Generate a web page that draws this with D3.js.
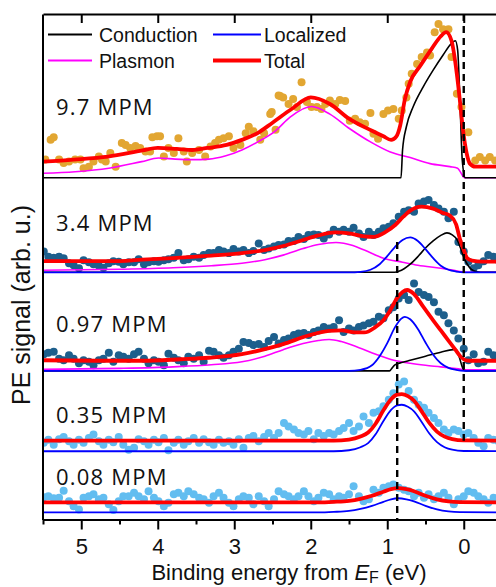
<!DOCTYPE html>
<html>
<head>
<meta charset="utf-8">
<script src="https://cdn.jsdelivr.net/npm/d3@7/dist/d3.min.js"></script>
<style>
  html, body { margin: 0; padding: 0; background: #ffffff; }
  svg { display: block; }
</style>
</head>
<body>
<svg id="chart" width="496" height="587"></svg>
<script>
// ---------------- measured spectra ----------------
// binding energies (eV below E_F) shared by the four lower spectra
const energy = [5.49,5.43,5.36,5.29,5.23,5.16,5.10,5.03,4.97,4.90,
  4.84,4.77,4.71,4.64,4.58,4.51,4.45,4.38,4.31,4.25,
  4.18,4.12,4.05,3.99,3.92,3.86,3.79,3.73,3.66,3.60,
  3.53,3.46,3.40,3.33,3.27,3.20,3.14,3.07,3.01,2.94,
  2.88,2.81,2.75,2.68,2.61,2.55,2.48,2.42,2.35,2.29,
  2.22,2.16,2.09,2.03,1.96,1.90,1.83,1.76,1.70,1.63,
  1.57,1.50,1.44,1.37,1.31,1.24,1.18,1.11,1.05,0.98,
  0.92,0.85,0.78,0.72,0.65,0.59,0.52,0.46,0.39,0.33,
  0.26,0.20,0.13,0.07,0.00,-0.06,-0.13,-0.19,-0.26,-0.32,
  -0.39,-0.45];

const signal34 = [4.1,3.1,2.9,3.1,2.8,1.8,1.4,0.8,2.4,2.0,
  1.6,1.3,0.9,1.8,2.2,2.1,1.6,2.0,2.0,2.6,
  1.6,2.0,2.2,2.1,2.4,2.6,2.9,3.8,2.4,2.6,
  3.1,2.9,3.4,3.8,3.8,4.4,4.1,3.8,4.6,4.1,
  4.4,3.8,4.2,5.7,4.4,4.7,5.1,5.4,5.5,6.2,
  6.2,7.0,6.6,7.4,7.5,7.4,6.7,7.5,8.4,8.0,
  8.4,8.0,8.8,7.7,7.0,8.0,7.4,8.0,8.7,9.0,
  9.7,11.0,12.0,12.3,12.0,13.6,14.0,14.3,13.3,12.6,
  12.0,10.7,12.0,6.0,4.1,2.1,0.8,1.4,2.2,3.4,
  3.1,2.4];

const signal097 = [3.3,3.6,3.8,2.4,2.1,3.1,2.4,1.5,2.1,1.8,
  1.1,2.1,2.4,3.6,1.8,3.1,2.8,2.4,3.3,3.8,
  2.4,1.5,2.1,1.8,1.1,3.4,2.6,2.1,1.5,2.8,
  2.4,3.1,1.8,4.0,3.8,3.1,2.6,3.1,3.8,4.4,
  5.7,5.5,5.1,5.3,4.7,5.9,6.7,5.4,6.1,6.4,
  7.1,7.4,7.5,7.1,7.7,8.0,8.7,8.4,8.7,10.0,
  7.7,8.4,8.0,8.7,9.0,9.4,9.7,10.7,10.4,12.0,
  12.6,14.3,15.0,14.0,17.3,15.6,15.0,14.6,13.6,11.7,
  11.0,9.4,8.0,6.4,4.4,2.1,3.3,1.5,1.8,3.8,
  3.1,2.6];

const signal035 = [1.7,2.3,1.3,2.4,2.8,2.0,1.3,2.3,1.7,2.6,
  3.3,2.0,1.3,2.3,1.8,2.8,1.3,0.3,0.7,2.4,
  2.0,1.3,2.3,1.8,2.6,0.2,1.7,2.3,1.3,2.0,
  2.6,1.7,2.4,1.8,1.3,2.3,1.7,2.0,1.3,2.4,
  0.7,2.6,3.0,2.0,2.8,3.6,2.6,3.6,5.6,4.9,
  4.3,3.6,3.3,4.0,2.4,3.6,3.0,3.6,3.3,4.0,
  4.6,5.6,4.0,4.9,6.9,5.6,7.6,7.9,8.9,10.2,
  11.5,13.2,13.8,11.9,10.2,9.2,8.6,7.6,6.6,5.6,
  4.3,3.6,4.3,4.0,3.3,3.6,2.6,1.7,1.0,2.6,
  2.3,2.0];

const signal008 = [3.0,3.2,2.8,2.9,4.3,2.2,1.2,0.6,2.9,3.2,
  3.6,2.6,2.9,1.6,0.5,2.2,3.2,3.2,3.9,3.2,
  2.6,4.2,2.9,2.2,1.2,1.9,3.6,3.9,3.2,4.2,
  3.6,2.9,2.6,1.9,3.2,3.9,2.9,1.9,1.2,2.6,
  3.2,2.9,1.6,3.2,2.2,1.2,2.6,4.2,3.6,3.2,
  2.6,3.2,4.2,3.2,2.2,2.9,3.9,3.6,2.6,3.2,
  2.9,3.6,5.2,3.2,2.2,2.6,4.5,3.9,4.9,5.2,
  5.5,4.9,4.5,4.2,3.2,3.9,2.9,3.6,2.6,3.2,
  3.9,2.9,1.6,2.6,3.2,4.2,3.9,3.2,2.6,1.9,
  2.9,2.4];

// the 9.7 MPM spectrum has its own energy points
const energy97 = [5.47,5.40,5.36,5.29,5.23,5.16,5.08,5.01,4.97,4.90,
  4.84,4.77,4.73,4.68,4.62,4.55,4.47,4.42,4.36,4.29,
  4.23,4.16,4.10,4.07,4.01,3.97,3.92,3.86,3.79,3.73,
  3.66,3.62,3.55,3.46,3.38,3.31,3.25,3.20,3.14,3.07,
  3.01,2.92,2.85,2.81,2.75,2.66,2.61,2.53,2.51,2.46,
  2.42,2.40,2.36,2.29,2.23,2.18,2.12,2.05,1.99,1.92,
  1.86,1.81,1.75,1.68,1.62,1.55,1.49,1.42,1.36,1.29,
  1.22,1.18,1.12,1.05,0.99,0.92,0.85,0.81,0.75,0.72,
  0.68,0.61,0.55,0.48,0.44,0.38,0.33,0.27,0.20,0.16,
  0.09,0.03,-0.06,-0.15,-0.21,-0.28,-0.34,-0.41];

const signal97 = [3.6,7.5,8.0,3.6,2.9,3.2,3.6,3.6,1.9,2.2,
  3.2,4.2,3.6,3.2,4.9,2.2,6.9,6.5,5.9,6.3,
  5.9,5.2,5.2,8.0,8.2,8.2,4.2,5.9,4.9,7.8,
  5.2,3.2,4.9,5.5,4.2,6.2,6.9,7.5,7.8,8.2,
  5.9,6.5,8.8,10.1,9.2,7.5,8.8,12.6,13.0,9.5,
  16.3,16.2,15.9,14.6,15.6,14.0,18.9,15.0,14.0,14.0,
  13.6,14.6,15.3,14.6,15.4,15.2,11.3,11.7,11.0,10.7,
  12.8,8.7,7.7,12.6,13.3,13.6,11.7,13.3,15.9,18.6,
  20.6,22.5,23.9,24.8,24.2,28.8,30.4,29.4,29.4,23.9,
  16.6,14.0,9.0,3.4,4.1,3.4,4.1,3.4];

// ---------------- fitted components: [binding energy, signal] ----------------
const total97 = [[5.5,3.2],[5.1,3.6],[4.65,4.2],[4.2,5.4],[4.0,5.9],[3.75,5.7],[3.55,5.5],
  [3.35,5.9],[3.1,6.5],[2.9,7.5],[2.7,8.8],[2.5,10.9],[2.25,13.6],[2.0,15.9],[1.75,14.6],
  [1.5,11.7],[1.2,9.3],[1.05,8.2],[0.95,7.5],[0.88,8.2],[0.83,10.4],[0.77,15.5],[0.70,19.0],
  [0.57,22.1],[0.42,25.5],[0.30,28.0],[0.23,28.8],[0.16,27.1],[0.09,20.5],[0.05,15.2],
  [0.01,9.5],[-0.04,4.7],[-0.08,2.8],[-0.15,2.2],[-0.5,2.2]];
const conduction97 = [[5.5,0],[0.82,0],[0.80,5.5],[0.75,10.1],[0.66,14.1],[0.53,18.0],
  [0.40,21.3],[0.27,24.3],[0.16,26.6],[0.11,27.1],[0.08,25.3],[0.05,15.4],[0.02,3.6],
  [-0.02,0],[-0.5,0]];
const plasmon97 = [[5.5,0.9],[5.08,1.2],[4.64,1.9],[4.21,3.2],[3.99,3.9],[3.77,3.7],[3.55,3.6],
  [3.33,3.7],[3.12,4.3],[2.9,5.5],[2.68,7.2],[2.46,9.3],[2.27,12.0],[1.99,14.1],[1.75,12.6],
  [1.49,9.7],[1.22,7.1],[0.96,5.1],[0.70,4.0],[0.44,2.8],[0.18,2.2],[0.08,1.9],[0.03,0.8],
  [0.0,0.1],[-0.03,0],[-0.5,0]];

const total34 = [[5.5,2.2],[5.0,2.2],[4.6,2.2],[4.2,2.5],[3.8,2.8],[3.3,3.3],[2.9,3.8],[2.6,4.4],
  [2.36,5.2],[2.1,6.4],[1.9,7.3],[1.68,7.9],[1.5,7.7],[1.3,7.1],[1.18,7.0],[1.02,8.0],[0.9,9.3],
  [0.79,11.0],[0.7,12.2],[0.55,13.0],[0.4,12.6],[0.28,11.8],[0.18,11.2],[0.1,9.5],[0.05,6.6],
  [0.0,4.5],[-0.04,2.9],[-0.11,2.3],[-0.24,2.1],[-0.5,2.1]];
const conduction34 = [[5.5,0],[0.9,0],[0.85,0.2],[0.78,0.7],[0.7,1.6],[0.6,3.1],[0.5,4.8],
  [0.4,6.2],[0.3,7.3],[0.22,7.8],[0.15,7.4],[0.09,6.5],[0.04,4.7],[0.0,3.0],[-0.05,1.5],
  [-0.1,0.6],[-0.17,0.1],[-0.22,0],[-0.5,0]];
const localized34 = [[5.5,0],[1.5,0],[1.35,0.1],[1.22,0.5],[1.1,1.6],[1.0,3.2],[0.9,5.0],
  [0.8,6.4],[0.7,6.9],[0.6,6.2],[0.5,4.6],[0.4,2.8],[0.3,1.3],[0.2,0.5],[0.1,0.15],[0.0,0],
  [-0.5,0]];
const plasmon34 = [[5.5,0.4],[4.5,0.6],[3.8,0.9],[3.3,1.3],[2.9,1.8],[2.6,2.5],[2.36,3.4],
  [2.1,4.7],[1.9,5.5],[1.67,5.9],[1.45,5.3],[1.3,4.4],[1.05,2.8],[0.8,2.0],[0.6,1.4],[0.3,0.8],
  [0.15,0.45],[0.02,0.1],[-0.05,0],[-0.5,0]];

const total097 = [[5.5,2.1],[4.8,2.0],[4.2,2.0],[3.7,2.3],[3.33,2.6],[2.9,3.3],[2.6,4.3],
  [2.36,5.3],[2.03,7.0],[1.76,7.9],[1.6,8.0],[1.42,7.6],[1.3,7.6],[1.16,8.6],[1.05,10.0],
  [0.96,12.0],[0.88,14.2],[0.80,15.6],[0.74,16.0],[0.65,15.2],[0.53,12.7],[0.40,10.0],
  [0.30,8.0],[0.2,6.0],[0.11,4.2],[0.04,2.8],[-0.03,2.1],[-0.1,2.0],[-0.5,2.0]];
const conduction097 = [[5.5,0],[0.97,0],[0.94,0.5],[0.9,1.2],[0.8,1.7],[0.7,2.1],[0.5,2.9],
  [0.3,3.7],[0.14,4.2],[0.1,4.2],[0.06,2.8],[0.02,0.8],[0.0,0.2],[-0.03,0],[-0.5,0]];
const localized097 = [[5.5,0],[1.5,0],[1.35,0.2],[1.2,1.1],[1.1,2.9],[1.0,5.5],[0.9,8.6],
  [0.82,10.3],[0.77,10.7],[0.7,10.2],[0.6,8.3],[0.5,5.6],[0.4,3.2],[0.3,1.5],[0.2,0.6],
  [0.1,0.2],[0.0,0],[-0.5,0]];
const plasmon097 = [[5.5,0.3],[4.5,0.5],[3.8,0.8],[3.3,1.2],[2.9,1.8],[2.6,2.9],[2.36,4.2],
  [2.1,5.4],[1.9,6.0],[1.76,6.2],[1.6,5.8],[1.37,4.6],[1.15,3.3],[0.94,2.2],[0.7,1.5],
  [0.5,1.1],[0.3,0.8],[0.07,0.4],[-0.05,0.2],[-0.5,0.2]];

const total035 = [[5.5,2.1],[1.7,2.1],[1.5,2.3],[1.35,2.9],[1.25,3.7],[1.15,5.5],[1.05,8.1],
  [0.95,10.3],[0.87,11.2],[0.81,11.3],[0.73,10.9],[0.65,10.0],[0.55,7.9],[0.45,5.6],
  [0.35,3.9],[0.25,2.9],[0.15,2.4],[0.0,2.15],[-0.5,2.1]];
const localized035 = [[5.5,0],[1.7,0],[1.5,0.2],[1.35,0.8],[1.25,1.6],[1.15,3.4],[1.05,6.0],
  [0.95,8.2],[0.87,9.1],[0.81,9.2],[0.73,8.8],[0.65,7.9],[0.55,5.8],[0.45,3.5],[0.35,1.8],
  [0.25,0.8],[0.15,0.3],[0.0,0.05],[-0.5,0]];

const total008 = [[5.5,2.0],[1.9,2.0],[1.7,2.1],[1.5,2.3],[1.35,2.7],[1.2,3.3],[1.05,4.1],
  [0.95,4.6],[0.86,4.8],[0.75,4.6],[0.65,4.2],[0.5,3.3],[0.35,2.6],[0.2,2.2],[0.05,2.05],
  [-0.5,2.0]];
const localized008 = [[5.5,0],[1.9,0],[1.7,0.1],[1.5,0.3],[1.35,0.7],[1.2,1.3],[1.05,2.1],
  [0.95,2.6],[0.86,2.8],[0.75,2.6],[0.65,2.2],[0.5,1.3],[0.35,0.6],[0.2,0.2],[0.05,0.05],
  [-0.5,0]];

// ---------------- labels, offsets, ticks ----------------
const panelLabels = ["9.7 MPM", "3.4 MPM", "0.97 MPM", "0.35 MPM", "0.08 MPM"];
const panelOffsets = [67.6, 48.9, 29.4, 13.5, 1.4];   // vertical stacking offsets (arb. u.)
const majorTicks = [5, 4, 3, 2, 1, 0];
const minorTicks = [5.5, 4.5, 3.5, 2.5, 1.5, 0.5, -0.5];
const legendNames = ["Conduction", "Localized", "Plasmon", "Total"];
// reference energies marked by dashed lines: E_F and the localized state
const markerEnergies = [0, 0.87];

// ---------------- styles ----------------
const colors = { conduction: "#000000", localized: "#0000ff", plasmon: "#ff00ff", total: "#ff0000" };
const widths = { conduction: 1.6, localized: 1.8, plasmon: 1.6, total: 3.8 };
const dotColors = ["#e2a632", "#1d5f8c", "#1d5f8c", "#62bdf0", "#62bdf0"];
const labelLift = [63, 41, 39, 28, 27];
const sansFont = "'Liberation Sans', Arial, sans-serif";
const labelFont = "'Open Sans', sans-serif";

const panels = [
  { energy: energy97, signal: signal97, curves: { plasmon: plasmon97, conduction: conduction97, total: total97 } },
  { energy: energy, signal: signal34, curves: { plasmon: plasmon34, conduction: conduction34, localized: localized34, total: total34 } },
  { energy: energy, signal: signal097, curves: { plasmon: plasmon097, conduction: conduction097, localized: localized097, total: total097 } },
  { energy: energy, signal: signal035, curves: { localized: localized035, total: total035 } },
  { energy: energy, signal: signal008, curves: { localized: localized008, total: total008 } }
].map((p, i) => Object.assign(p, { label: panelLabels[i], offset: panelOffsets[i], dot: dotColors[i], lift: labelLift[i] }));

// ---------------- scales ----------------
const svg = d3.select("#chart");
const x = d3.scaleLinear().domain([5.5, -0.5]).range([43, 502]);
const y = d3.scaleLinear().domain([0, 100]).range([519.5, 14]);
const [x0, x1] = x.range();
const [yBottom, yTop] = y.range();

svg.append("defs").append("clipPath").attr("id", "plot-clip")
  .append("rect").attr("x", x0).attr("y", yTop).attr("width", x1 - x0).attr("height", yBottom - yTop);

const plot = svg.append("g").attr("clip-path", "url(#plot-clip)");

// ---------------- spectra ----------------
const componentOrder = ["plasmon", "conduction", "localized", "total"];
panels.forEach(p => {
  const g = plot.append("g");
  g.selectAll("circle")
    .data(p.energy.map((e, i) => [e, p.signal[i]]))
    .join("circle")
    .attr("cx", d => x(d[0]))
    .attr("cy", d => y(d[1] + p.offset))
    .attr("r", 4)
    .attr("fill", p.dot);

  const line = d3.line()
    .x(d => x(d[0]))
    .y(d => y(d[1] + p.offset))
    .curve(d3.curveMonotoneX);

  componentOrder.forEach(k => {
    if (!p.curves[k]) return;
    g.append("path")
      .attr("d", line(p.curves[k]))
      .attr("fill", "none")
      .attr("stroke", colors[k])
      .attr("stroke-width", widths[k])
      .attr("stroke-linejoin", "round");
  });

  svg.append("text")
    .attr("x", 56)
    .attr("y", y(p.offset) - p.lift)
    .attr("font-family", labelFont)
    .attr("font-size", 22)
    .attr("letter-spacing", 1.2)
    .attr("fill", "#111")
    .text(p.label);
});

// dashed marker lines: E_F from the top down to the 0.35 MPM trace,
// the localized state from the 3.4 MPM trace down to the axis
const markerSpans = [
  [y.domain()[1], panelOffsets[3] + total035[0][1]],
  [panelOffsets[1] + 6.0, y.domain()[0]]
];
markerEnergies.forEach((e, i) => {
  svg.append("line")
    .attr("x1", x(e)).attr("x2", x(e))
    .attr("y1", y(markerSpans[i][0])).attr("y2", y(markerSpans[i][1]))
    .attr("stroke", "#000").attr("stroke-width", 2.4)
    .attr("stroke-dasharray", "7,5");
});

// ---------------- axes ----------------
const axisStyle = g => {
  g.selectAll("path.domain").attr("stroke", "#000").attr("stroke-width", 2);
  g.selectAll(".tick line").attr("stroke", "#000").attr("stroke-width", 2);
};

svg.append("g").attr("transform", `translate(0,${yBottom})`)
  .call(d3.axisBottom(x).tickValues(minorTicks).tickSize(5).tickFormat("").tickSizeOuter(0))
  .call(axisStyle).call(g => g.select("path.domain").remove());

svg.append("g").attr("transform", `translate(0,${yBottom})`)
  .call(d3.axisBottom(x).tickValues(majorTicks).tickSize(10).tickPadding(9)
    .tickFormat(d3.format("d")).tickSizeOuter(0))
  .call(axisStyle)
  .call(g => g.selectAll("text").attr("font-family", sansFont).attr("font-size", 22).attr("fill", "#111"));

// top frame with inward ticks
svg.append("g").attr("transform", `translate(0,${yTop})`)
  .call(d3.axisBottom(x).tickValues(majorTicks).tickSize(9).tickFormat("").tickSizeOuter(0))
  .call(axisStyle);

svg.append("g").attr("transform", `translate(${x0 - 0.5},0)`)
  .call(d3.axisLeft(y).tickValues([]).tickSizeOuter(0))
  .call(axisStyle);

// ---------------- axis titles ----------------
const xTitle = svg.append("text")
  .attr("x", 289).attr("y", 579.5)
  .attr("text-anchor", "middle")
  .attr("font-family", sansFont).attr("font-size", 22).attr("fill", "#111");
xTitle.append("tspan").text("Binding energy from ");
xTitle.append("tspan").attr("font-style", "italic").text("E");
xTitle.append("tspan").attr("font-size", 16).attr("dy", 3).text("F");
xTitle.append("tspan").attr("dy", -3).text(" (eV)");

svg.append("text")
  .attr("transform", "translate(30,305) rotate(-90)")
  .attr("text-anchor", "middle")
  .attr("font-family", sansFont).attr("font-size", 25).attr("fill", "#111")
  .text("PE signal (arb. u.)");

// ---------------- legend ----------------
const legendKeys = ["conduction", "localized", "plasmon", "total"];
const legend = svg.append("g");
legendKeys.forEach((k, i) => {
  const lx = i % 2 === 0 ? 48 : 213;
  const ly = i < 2 ? 34.5 : 60.5;
  legend.append("line")
    .attr("x1", lx).attr("x2", lx + (i % 2 === 0 ? 44 : 48))
    .attr("y1", ly).attr("y2", ly)
    .attr("stroke", colors[k]).attr("stroke-width", k === "total" ? 4 : 2);
  legend.append("text")
    .attr("x", i % 2 === 0 ? 99 : 264).attr("y", ly + 7)
    .attr("font-family", sansFont).attr("font-size", 19.5).attr("fill", "#111")
    .text(legendNames[i]);
});
</script>
</body>
</html>
